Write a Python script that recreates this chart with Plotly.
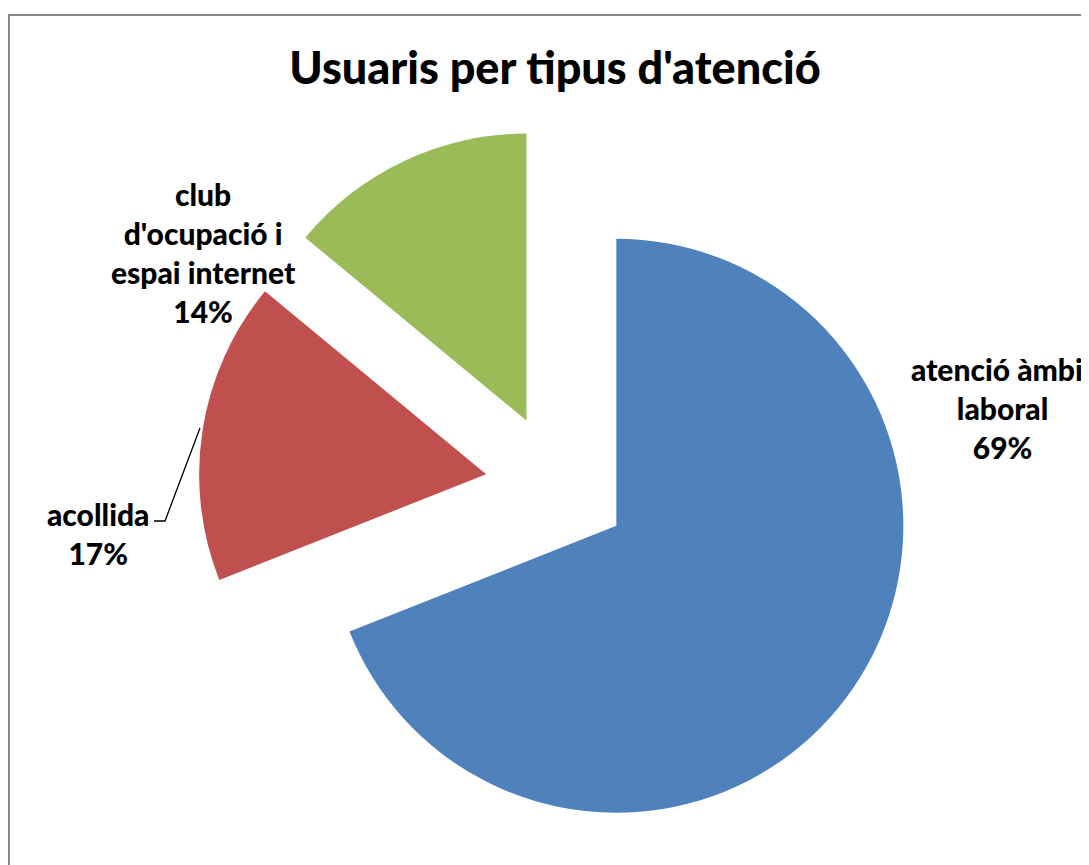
import plotly.graph_objects as go

# ---- data ----
categories = ["atenció àmbit laboral", "acollida", "club d'ocupació i espai internet"]
values = [69, 17, 14]
label_lines = [["atenció àmbit", "laboral"], ["acollida"], ["club", "d'ocupació i", "espai internet"]]
colors = ["#4F81BD", "#C0504D", "#9BBB59"]

W, H = 1089, 865
OFF = 8  # page body margin


def px(x):
    return (x - OFF) / W


def py(y):
    return 1 - (y - OFF) / H


total = sum(values)
pcts = [f"{round(v / total * 100)}%" for v in values]

FONT = "Lato"

fig = go.Figure(
    go.Pie(
        labels=categories,
        values=values,
        sort=False,
        direction="clockwise",
        rotation=0,
        pull=[0.25, 0.25, 0.25],
        marker=dict(colors=colors, line=dict(width=0)),
        textinfo="none",
        hoverinfo="label+percent",
        showlegend=False,
        domain=dict(x=[px(557 - 358.75), px(557 + 358.75)],
                    y=[py(485.5 + 358.75), py(485.5 - 358.75)]),
    )
)

# label positions (pixel centres)
label_pos = [(1003, 408), (98, 533), (203, 252)]
annotations = []
for lines, pct, (x, y) in zip(label_lines, pcts, label_pos):
    annotations.append(dict(
        text="<br>".join(lines + [pct]),
        x=px(x), y=py(y), xref="paper", yref="paper",
        xanchor="center", yanchor="middle", showarrow=False,
        font=dict(family=FONT, size=30, color="black", weight=900),
    ))

shapes = [
    dict(type="rect", xref="paper", yref="paper",
         x0=px(9), x1=px(W + 20), y0=py(H + 20), y1=py(15),
         line=dict(color="#878787", width=2), fillcolor="rgba(0,0,0,0)", layer="below"),
    dict(type="path", xref="paper", yref="paper",
         path=f"M {px(200)},{py(428)} L {px(165)},{py(521)} L {px(154)},{py(521)}",
         line=dict(color="black", width=1.3)),
]

fig.update_layout(
    width=W, height=H,
    margin=dict(l=0, r=0, t=0, b=0),
    paper_bgcolor="white",
    plot_bgcolor="white",
    title=dict(text="Usuaris per tipus d'atenció", x=px(555), y=py(68),
               xanchor="center", yanchor="middle",
               font=dict(family=FONT, size=45, color="black", weight=900)),
    annotations=annotations,
    shapes=shapes,
)

fig.write_html("out.html")
